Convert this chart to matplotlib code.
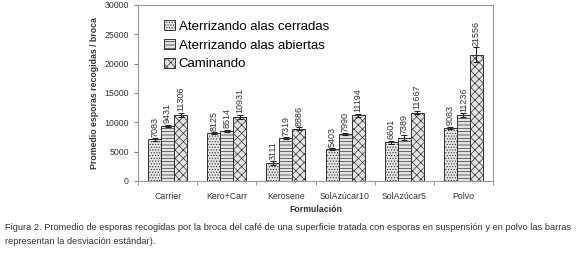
import numpy as np
import matplotlib
matplotlib.use('Agg')
import matplotlib.pyplot as plt

plt.rcParams['font.family'] = ['Liberation Sans', 'DejaVu Sans']
plt.rcParams['hatch.color'] = '#555555'
plt.rcParams['hatch.linewidth'] = 0.5

categorias = ['Carrier', 'Kero+Carr', 'Kerosene', 'SolAzúcar10', 'SolAzúcar5', 'Polvo']
series = ['Aterrizando alas cerradas', 'Aterrizando alas abiertas', 'Caminando']
cerradas = [7083, 8125, 3111, 5403, 6601, 9083]
abiertas = [9431, 8514, 7319, 7990, 7389, 11236]
caminando = [11306, 10931, 8886, 11194, 11667, 21556]
err_cerradas = [250, 150, 300, 200, 250, 200]
err_abiertas = [150, 200, 150, 150, 400, 300]
err_caminando = [350, 350, 250, 300, 300, 1200]

valores = [cerradas, abiertas, caminando]
errores = [err_cerradas, err_abiertas, err_caminando]
hatches = ['......', '-----', 'xxxx']

fig = plt.figure(figsize=(5.8, 2.56), dpi=100)
ax = fig.add_axes([138/580, 1-181/256, 355/580, 176/256])

x = np.arange(len(categorias))
w = 0.22
for i in range(3):
    pos = x + (i-1)*w
    ax.bar(pos, valores[i], w, color='#e4e4e4', edgecolor='#333333', linewidth=0.7,
           hatch=hatches[i], label=series[i],
           yerr=errores[i], error_kw=dict(ecolor='#222222', elinewidth=0.8, capsize=2, capthick=0.8))
    for p, v, e in zip(pos, valores[i], errores[i]):
        ax.text(p, v+e+250, str(v), rotation=90, ha='center', va='bottom', fontsize=6.5, color='#333333')

ax.set_ylim(0, 30000)
ax.set_xlim(-0.5, len(categorias)-0.5)
ax.set_yticks(range(0, 30001, 5000))
ax.set_xticks(x)
ax.set_xticklabels(categorias)
ax.set_xticks(np.arange(-0.5, len(categorias)), minor=True)
ax.tick_params(axis='x', which='major', length=0, labelsize=6.3, pad=8, colors='#333333')
ax.tick_params(axis='x', which='minor', length=3, color='#888888')
ax.tick_params(axis='y', labelsize=6.3, length=3, color='#888888', labelcolor='#333333')
for s in ax.spines.values():
    s.set_color('#999999')
ax.set_ylabel('Promedio esporas recogidas / broca', fontsize=6.3, fontweight='bold', color='#333333')
ax.set_xlabel('Formulación', fontsize=6.3, fontweight='bold', color='#333333', labelpad=3)

ax.legend(loc='upper left', frameon=False, fontsize=9.5, handlelength=0.8, handleheight=0.8,
          handletextpad=0.3, labelspacing=0.45, bbox_to_anchor=(0.04, 0.98))

fig.text(5/580, 1-228/256, 'Figura 2. Promedio de esporas recogidas por la broca del café de una superficie tratada con esporas en suspensión y en polvo las barras',
         fontsize=6.7, va='center', color='#333333')
fig.text(5/580, 1-241/256, 'representan la desviación estándar).', fontsize=6.7, va='center', color='#333333')

fig.savefig('out.png', dpi=100)
